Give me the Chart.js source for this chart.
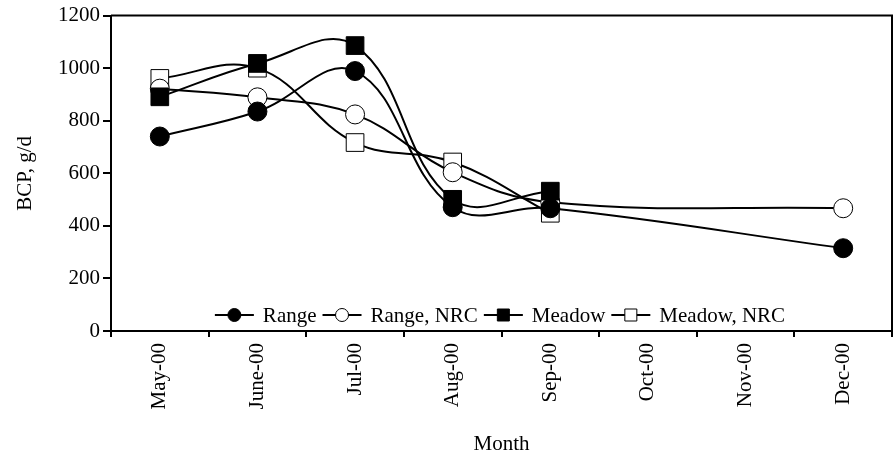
<!DOCTYPE html>
<html>
<head>
<meta charset="utf-8">
<script src="https://cdn.jsdelivr.net/npm/chart.js@4/dist/chart.umd.min.js"></script>
<style>
  body { margin: 0; background: #fff; }
</style>
</head>
<body>
<canvas id="bcpChart" width="895" height="458"></canvas>
<script>
const months = ['May-00', 'June-00', 'Jul-00', 'Aug-00', 'Sep-00', 'Oct-00', 'Nov-00', 'Dec-00'];
const range = [740, 835, 989, 471, 467, null, null, 315];
const rangeNRC = [922, 889, 824, 604, 490, null, null, 467];
const meadow = [891, 1018, 1086, 501, 532, null, null, null];
const meadowNRC = [961, 1000, 717, 643, 448, null, null, null];
const yTicks = [0, 200, 400, 600, 800, 1000, 1200];

Chart.defaults.font.family = "'Liberation Serif', 'Times New Roman', serif";
Chart.defaults.font.size = 21;
Chart.defaults.color = '#000';

// top and right edges of the plot box
const frame = {
    id: 'frame',
    afterDatasetsDraw(chart) {
        const { ctx, chartArea: a } = chart;
        ctx.save();
        ctx.strokeStyle = '#000';
        ctx.lineWidth = 2;
        ctx.beginPath();
        ctx.moveTo(a.left, a.top);
        ctx.lineTo(a.right, a.top);
        ctx.lineTo(a.right, a.bottom);
        ctx.stroke();
        ctx.restore();
    }
};

// legend sitting inside the plot, just above the x axis
const innerLegend = {
    id: 'innerLegend',
    afterDraw(chart) {
        const ctx = chart.ctx;
        const sets = chart.data.datasets;
        const lineLen = 39, gapText = 9, gapItem = 6;
        ctx.save();
        ctx.font = "21px 'Liberation Serif', 'Times New Roman', serif";
        let total = 0;
        sets.forEach((ds, i) => {
            total += lineLen + gapText + ctx.measureText(ds.label).width;
            if (i < sets.length - 1) total += gapItem;
        });
        let x = 500 - total / 2;
        const y = 315;
        sets.forEach(ds => {
            ctx.strokeStyle = '#000';
            ctx.lineWidth = 2;
            ctx.beginPath();
            ctx.moveTo(x, y);
            ctx.lineTo(x + lineLen, y);
            ctx.stroke();
            const mx = x + lineLen / 2;
            ctx.fillStyle = ds.pointBackgroundColor;
            ctx.lineWidth = 1;
            ctx.beginPath();
            if (ds.pointStyle === 'rect') {
                ctx.rect(mx - 6, y - 6, 12, 12);
            } else {
                ctx.arc(mx, y, 6.5, 0, Math.PI * 2);
            }
            ctx.fill();
            ctx.stroke();
            ctx.fillStyle = '#000';
            ctx.textBaseline = 'middle';
            ctx.fillText(ds.label, x + lineLen + gapText, y + 1);
            x += lineLen + gapText + ctx.measureText(ds.label).width + gapItem;
        });
        ctx.restore();
    }
};

function series(label, data, style, filled, order) {
    return {
        label: label,
        data: data,
        order: order,
        borderColor: '#000',
        borderWidth: 2,
        tension: 0.4,
        spanGaps: true,
        pointStyle: style,
        pointRadius: style === 'rect' ? 12.5 : 9.5,
        pointHoverRadius: style === 'rect' ? 12.5 : 9.5,
        pointBackgroundColor: filled ? '#000' : '#fff',
        pointBorderColor: '#000',
        pointBorderWidth: 1,
        fill: false
    };
}

new Chart(document.getElementById('bcpChart'), {
    type: 'line',
    data: {
        labels: months,
        datasets: [
            series('Range', range, 'circle', true, 1),
            series('Range, NRC', rangeNRC, 'circle', false, 2),
            series('Meadow', meadow, 'rect', true, 0),
            series('Meadow, NRC', meadowNRC, 'rect', false, 3)
        ]
    },
    options: {
        responsive: false,
        animation: false,
        devicePixelRatio: 1,
        layout: { autoPadding: false, padding: { top: 15, right: 3, left: 0, bottom: 0 } },
        plugins: {
            legend: { display: false },
            tooltip: { enabled: false }
        },
        scales: {
            x: {
                offset: true,
                grid: { offset: true, drawOnChartArea: false, color: '#000', lineWidth: 2, tickLength: 6 },
                border: { color: '#000', width: 2 },
                ticks: { minRotation: 90, maxRotation: 90, autoSkip: false, padding: 6 },
                title: { display: true, text: 'Month', padding: { top: 0, bottom: 1 } },
                afterFit(scale) {
                    scale.height = 127;
                }
            },
            y: {
                min: 0,
                max: 1200,
                afterBuildTicks(scale) { scale.ticks = yTicks.map(v => ({ value: v })); },
                grid: { drawOnChartArea: false, color: '#000', lineWidth: 2, tickLength: 8 },
                border: { color: '#000', width: 2 },
                ticks: { padding: 3, callback: v => String(v) },
                title: { display: true, text: 'BCP, g/d', padding: { top: 13, bottom: 0 } },
                afterFit(scale) { scale.width = 111; }
            }
        }
    },
    plugins: [frame, innerLegend]
});
</script>
</body>
</html>
